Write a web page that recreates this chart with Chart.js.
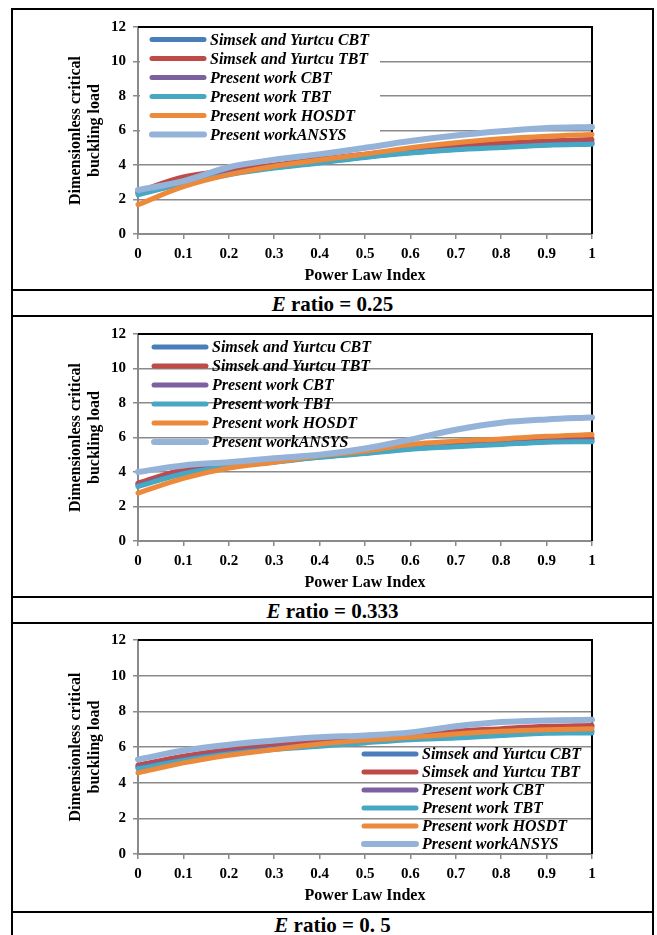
<!DOCTYPE html>
<html>
<head>
<meta charset="utf-8">
<script src="https://cdn.jsdelivr.net/npm/chart.js@4"></script>
<style>
    body { margin: 0; background: #fff; width: 657px; height: 935px; overflow: hidden; position: relative; }
    .frame { position: absolute; left: 11px; top: 8px; width: 639px; height: 960px; border: 2px solid #000; }
    .rule { position: absolute; left: 11px; width: 643px; height: 2px; background: #000; }
    .caption { position: absolute; left: 13px; width: 639px; text-align: center; font: bold 21px 'Liberation Serif', 'Times New Roman', serif; line-height: 24px; }
    .caption i { font-style: italic; }
    canvas { position: absolute; left: 14px; }
</style>
</head>
<body>
<div class="frame"></div>

<canvas id="chart025" width="636" height="278" style="top:11px"></canvas>
<div class="rule" style="top:289px"></div>
<div class="caption" style="top:292px"><i>E</i> ratio = 0.25</div>
<div class="rule" style="top:315px"></div>

<canvas id="chart0333" width="636" height="278" style="top:318px"></canvas>
<div class="rule" style="top:596px"></div>
<div class="caption" style="top:599px"><i>E</i> ratio = 0.333</div>
<div class="rule" style="top:622px"></div>

<canvas id="chart05" width="636" height="287" style="top:624px"></canvas>
<div class="rule" style="top:911px"></div>
<div class="caption" style="top:913px"><i>E</i> ratio = 0. 5</div>

<script>
const powerLawIndex = ['0', '0.1', '0.2', '0.3', '0.4', '0.5', '0.6', '0.7', '0.8', '0.9', '1'];
const yTicks = [0, 2, 4, 6, 8, 10, 12];

const seriesNames = [
    'Simsek and Yurtcu CBT',
    'Simsek and Yurtcu TBT',
    'Present work CBT',
    'Present work TBT',
    'Present work HOSDT',
    'Present workANSYS'
];
const seriesColors = ['#4a7ebb', '#be4b48', '#7d60a0', '#46a8c2', '#ec893a', '#95b3d9'];

// E ratio = 0.25
const simsekCBT025 = [2.40, 3.10, 3.55, 3.90, 4.20, 4.50, 4.75, 4.95, 5.10, 5.25, 5.30];
const simsekTBT025 = [2.46, 3.31, 3.69, 4.00, 4.35, 4.63, 4.88, 5.07, 5.26, 5.39, 5.48];
const presentCBT025 = [2.35, 3.00, 3.50, 3.85, 4.15, 4.47, 4.72, 4.92, 5.05, 5.18, 5.25];
const presentTBT025 = [2.27, 2.93, 3.44, 3.82, 4.12, 4.44, 4.69, 4.88, 5.01, 5.14, 5.20];
const presentHOSDT025 = [1.70, 2.74, 3.44, 3.93, 4.29, 4.63, 5.00, 5.29, 5.52, 5.67, 5.77];
const presentANSYS025 = [2.55, 3.06, 3.87, 4.31, 4.63, 5.00, 5.39, 5.71, 5.95, 6.14, 6.20];

// E ratio = 0.333
const simsekCBT0333 = [3.30, 4.05, 4.35, 4.62, 4.90, 5.12, 5.37, 5.55, 5.70, 5.83, 5.92];
const simsekTBT0333 = [3.35, 4.14, 4.38, 4.66, 4.94, 5.17, 5.41, 5.60, 5.75, 5.88, 5.98];
const presentCBT0333 = [3.22, 3.95, 4.33, 4.60, 4.87, 5.10, 5.35, 5.50, 5.63, 5.76, 5.80];
const presentTBT0333 = [3.16, 3.90, 4.32, 4.57, 4.85, 5.07, 5.32, 5.47, 5.60, 5.73, 5.75];
const presentHOSDT0333 = [2.78, 3.63, 4.23, 4.57, 4.94, 5.22, 5.60, 5.79, 5.92, 6.07, 6.17];
const presentANSYS0333 = [4.00, 4.38, 4.57, 4.80, 5.00, 5.36, 5.88, 6.45, 6.86, 7.05, 7.16];

// E ratio = 0.5
const simsekCBT05 = [4.90, 5.40, 5.80, 6.05, 6.22, 6.40, 6.55, 6.80, 6.95, 7.08, 7.15];
const simsekTBT05 = [4.98, 5.48, 5.86, 6.10, 6.28, 6.45, 6.60, 6.88, 7.03, 7.16, 7.21];
const presentCBT05 = [4.85, 5.30, 5.70, 5.95, 6.12, 6.30, 6.48, 6.60, 6.75, 6.88, 6.90];
const presentTBT05 = [4.78, 5.24, 5.61, 5.86, 6.04, 6.23, 6.41, 6.50, 6.64, 6.77, 6.78];
const presentHOSDT05 = [4.55, 5.11, 5.54, 5.86, 6.17, 6.38, 6.54, 6.73, 6.88, 6.97, 7.03];
const presentANSYS05 = [5.30, 5.80, 6.13, 6.36, 6.54, 6.65, 6.82, 7.16, 7.40, 7.49, 7.53];

const serif = "'Liberation Serif', 'Times New Roman', serif";
const gridGray = '#8a8a8a';

// black plot border on top and right, like the Excel plot area
const plotBorder = {
    id: 'plotBorder',
    beforeDatasetsDraw(chart) {
        const { ctx, chartArea: a } = chart;
        ctx.save();
        ctx.strokeStyle = '#000';
        ctx.lineWidth = 2;
        ctx.beginPath();
        ctx.moveTo(a.left, a.top);
        ctx.lineTo(a.right, a.top);
        ctx.lineTo(a.right, a.bottom);
        ctx.stroke();
        ctx.restore();
    }
};

// legend drawn inside the plot area
const inPlotLegend = {
    id: 'inPlotLegend',
    afterDatasetsDraw(chart, args, opts) {
        const { ctx, chartArea: a } = chart;
        ctx.save();
        if (opts.fillWidth) {
            ctx.fillStyle = '#fff';
            ctx.fillRect(a.left + 2, a.top + 2, opts.fillWidth, opts.fillHeight);
        }
        const x0 = a.left + opts.dx;
        const y0 = a.top + opts.dy;
        chart.data.datasets.forEach((ds, i) => {
            const y = y0 + i * opts.gap;
            ctx.strokeStyle = ds.borderColor;
            ctx.lineWidth = ds.borderWidth;
            ctx.lineCap = 'round';
            ctx.beginPath();
            ctx.moveTo(x0, y);
            ctx.lineTo(x0 + 52, y);
            ctx.stroke();
            ctx.fillStyle = '#000';
            ctx.font = 'italic bold 16px ' + serif;
            ctx.textBaseline = 'middle';
            ctx.fillText(ds.label, x0 + 58, y + 1);
        });
        ctx.restore();
    }
};

function buildChart(canvasId, series, pad, legendOpts) {
    const ctx = document.getElementById(canvasId);
    if (!ctx) return;

    new Chart(ctx, {
        type: 'line',
        data: {
            labels: powerLawIndex,
            datasets: series.map((values, i) => ({
                label: seriesNames[i],
                data: values,
                borderColor: seriesColors[i],
                backgroundColor: seriesColors[i],
                borderWidth: i === 5 ? 6 : 5,
                pointRadius: 0,
                tension: 0.35,
                borderCapStyle: 'round',
                clip: 4,
                order: series.length - i
            }))
        },
        options: {
            responsive: false,
            animation: false,
            layout: {
                padding: { left: 0, right: 58, top: pad.top, bottom: pad.bottom }
            },
            scales: {
                x: {
                    type: 'category',
                    offset: false,
                    afterFit: s => { s.height = 51.6; },
                    grid: { drawOnChartArea: false, drawTicks: true, tickLength: 5, color: gridGray, lineWidth: 1.5 },
                    border: { color: gridGray, width: 2 },
                    ticks: { color: '#000', padding: 6, maxRotation: 0, autoSkip: false, font: { family: serif, size: 15, weight: 'bold' } },
                    title: { display: true, text: 'Power Law Index', color: '#000', padding: 0, font: { family: serif, size: 16, weight: 'bold' } }
                },
                y: {
                    min: 0,
                    max: 12,
                    afterFit: s => { s.width = 124; },
                    afterBuildTicks: s => { s.ticks = yTicks.map(v => ({ value: v })); },
                    grid: { color: gridGray, lineWidth: 1.5, tickLength: 5 },
                    border: { color: gridGray, width: 2 },
                    ticks: { color: '#000', padding: 7, font: { family: serif, size: 15, weight: 'bold' } },
                    title: {
                        display: true,
                        text: ['Dimensionless critical', 'buckling load'],
                        color: '#000',
                        padding: { top: 52, bottom: 0 },
                        font: { family: serif, size: 16, weight: 'bold', lineHeight: 1.2 }
                    }
                }
            },
            plugins: {
                legend: { display: false },
                tooltip: { enabled: false },
                inPlotLegend: legendOpts
            }
        },
        plugins: [plotBorder, inPlotLegend]
    });
}

buildChart('chart025',
    [simsekCBT025, simsekTBT025, presentCBT025, presentTBT025, presentHOSDT025, presentANSYS025],
    { top: 11.5, bottom: 3.4 },
    { dx: 14, dy: 12.5, gap: 19, fillWidth: 240, fillHeight: 111 });

buildChart('chart0333',
    [simsekCBT0333, simsekTBT0333, presentCBT0333, presentTBT0333, presentHOSDT0333, presentANSYS0333],
    { top: 11, bottom: 3.4 },
    { dx: 16, dy: 13, gap: 19 });

buildChart('chart05',
    [simsekCBT05, simsekTBT05, presentCBT05, presentTBT05, presentHOSDT05, presentANSYS05],
    { top: 14, bottom: 5.4 },
    { dx: 226, dy: 114, gap: 18 });
</script>
</body>
</html>
